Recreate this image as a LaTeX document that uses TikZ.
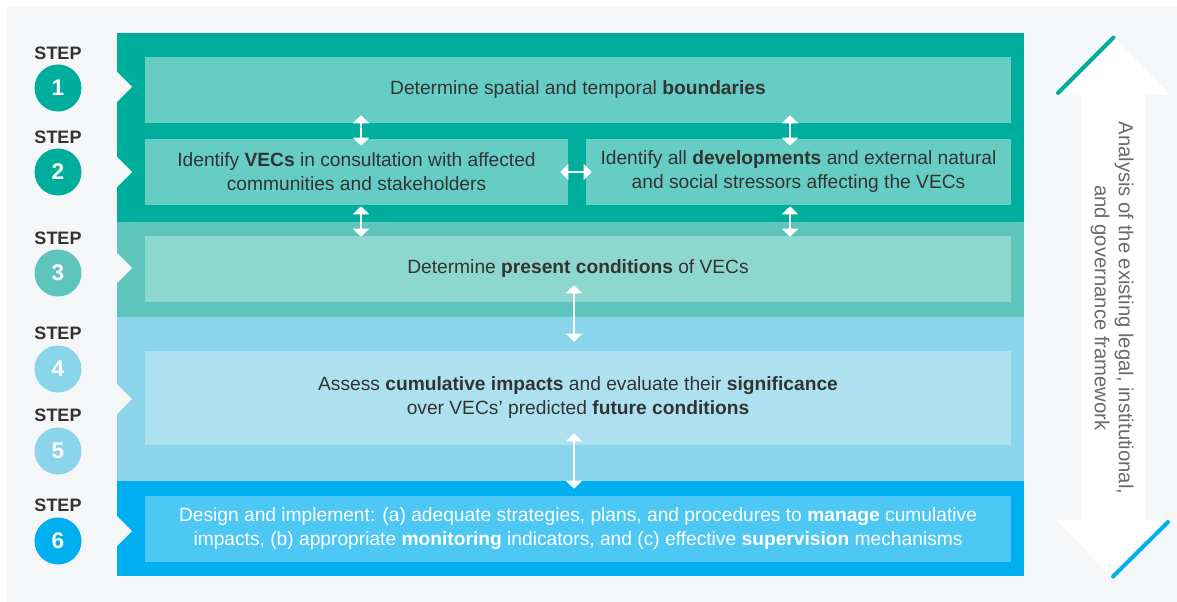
\documentclass[tikz,border=0pt]{standalone}
\usepackage{fontspec}
\setmainfont{Liberation Sans}
\usetikzlibrary{arrows.meta,calc}
\definecolor{bg}{HTML}{F5F6F8}
\definecolor{bandA}{HTML}{00AE9D}
\definecolor{boxA}{HTML}{66CDC4}
\definecolor{bandB}{HTML}{5EC5BC}
\definecolor{boxB}{HTML}{8DD7CE}
\definecolor{bandC}{HTML}{8AD5EA}
\definecolor{boxC}{HTML}{AEE1F0}
\definecolor{bandD}{HTML}{00AFEF}
\definecolor{boxD}{HTML}{4DC7F3}
\definecolor{txt}{HTML}{333333}
\definecolor{graytxt}{HTML}{6B6B6B}
\tikzset{
  box/.style={inner sep=0pt, minimum height=49.5pt, align=center,
    font=\fontsize{14.4}{18}\selectfont, text=txt},
  circ/.style={circle, inner sep=0pt, minimum size=35.25pt, text=white,
    font=\fontsize{17}{17}\selectfont\bfseries},
  steplbl/.style={inner sep=0pt, text=txt, font=\fontsize{13.5}{13.5}\selectfont\bfseries},
  dbl/.style={white, line width=1.1pt,
    {Triangle[width=12pt,length=6pt]}-{Triangle[width=12pt,length=6pt]}},
}
\begin{document}
\begin{tikzpicture}[x=0.75pt,y=-0.75pt]
\useasboundingbox (0,0) rectangle (1177,602);
\fill[white] (0,0) rectangle (1177,602);
\fill[bg] (7,7) rectangle (1177,602);
% bands
\fill[bandA] (117,33) rectangle (1024,222);
\fill[bandB] (117,222) rectangle (1024,317);
\fill[bandC] (117,317) rectangle (1024,481);
\fill[bandD] (117,481) rectangle (1024,576);
% notches
\foreach \yy in {87,172,268,399,531}
  \fill[bg] (116.5,\yy-15.5) -- (132,\yy) -- (116.5,\yy+15.5) -- cycle;
% boxes
\node[box, fill=boxA, minimum width=649.5pt] (b1) at (578,90)
  {Determine spatial and temporal \textbf{boundaries}};
\node[box, fill=boxA, minimum width=317.25pt] (b2a) at (356.5,172)
  {Identify \textbf{VECs} in consultation with affected\\communities and stakeholders};
\node[box, fill=boxA, minimum width=318.75pt] (b2b) at (798.5,172)
  {Identify all \textbf{developments} and external natural\\and social stressors affecting the VECs};
\node[box, fill=boxB, minimum width=649.5pt] (b3) at (578,269)
  {Determine \textbf{present conditions} of VECs};
\node[box, fill=boxC, minimum width=649.5pt, minimum height=70.5pt] (b45) at (578,398)
  {Assess \textbf{cumulative impacts} and evaluate their \textbf{significance}\\over VECs’ predicted \textbf{future conditions}};
\node[box, fill=boxD, minimum width=649.5pt, text=white] (b6) at (578,529)
  {Design and implement: (a) adequate strategies, plans, and procedures to \textbf{manage} cumulative\\impacts, (b) appropriate \textbf{monitoring} indicators, and (c) effective \textbf{supervision} mechanisms};
% steps
\node[steplbl] (s1) at (58,53.5) {STEP};
\node[circ, fill=bandA] (c1) at (58,88) {1};
\node[steplbl] (s2) at (58,137.5) {STEP};
\node[circ, fill=bandA] (c2) at (58,172) {2};
\node[steplbl] (s3) at (58,238.5) {STEP};
\node[circ, fill=bandB] (c3) at (58,273) {3};
\node[steplbl] (s4) at (58,333.5) {STEP};
\node[circ, fill=bandC] (c4) at (58,369) {4};
\node[steplbl] (s5) at (58,415.5) {STEP};
\node[circ, fill=bandC] (c5) at (58,451) {5};
\node[steplbl] (s6) at (58,505.5) {STEP};
\node[circ, fill=bandD] (c6) at (58,541) {6};
% connectors
\coordinate (xa) at (361,0);
\coordinate (xb) at (790,0);
\coordinate (xc) at (574,0);
\draw[dbl] ($(b1.south -| xa)+(0,-8)$) -- ($(b2a.north -| xa)+(0,7)$);
\draw[dbl] ($(b1.south -| xb)+(0,-8)$) -- ($(b2b.north -| xb)+(0,7)$);
\draw[dbl] ($(b2a.south -| xa)+(0,1)$) -- ($(b3.north -| xa)+(0,1)$);
\draw[dbl] ($(b2b.south -| xb)+(0,1)$) -- ($(b3.north -| xb)+(0,1)$);
\draw[dbl] ($(b2a.east)+(-8,0)$) -- ($(b2b.west)+(6,0)$);
\draw[dbl] ($(b3.south -| xc)+(0,-17)$) -- ($(b45.north -| xc)+(0,-9)$);
\draw[dbl] ($(b45.south -| xc)+(0,-12)$) -- ($(b6.north -| xc)+(0,-7)$);
% big side arrow
\fill[white, rounded corners=1.5pt] (1081,95) -- (1056,95) -- (1113.5,36) -- (1170,95) -- (1145,95)
  -- (1145,520) -- (1170,520) -- (1113,578) -- (1056,520) -- (1081,520) -- cycle;
\draw[bandA, line width=3pt, line cap=round] (1058,93) -- (1113.5,37.5);
\draw[bandD, line width=3pt, line cap=round] (1168,522) -- (1113,576.5);
\node[rotate=-90, align=center, inner sep=0pt, text=graytxt,
  font=\fontsize{15.2}{18}\selectfont] (fw) at (1112,308)
  {Analysis of the existing legal, institutional,\\and governance framework};
\end{tikzpicture}
\end{document}
